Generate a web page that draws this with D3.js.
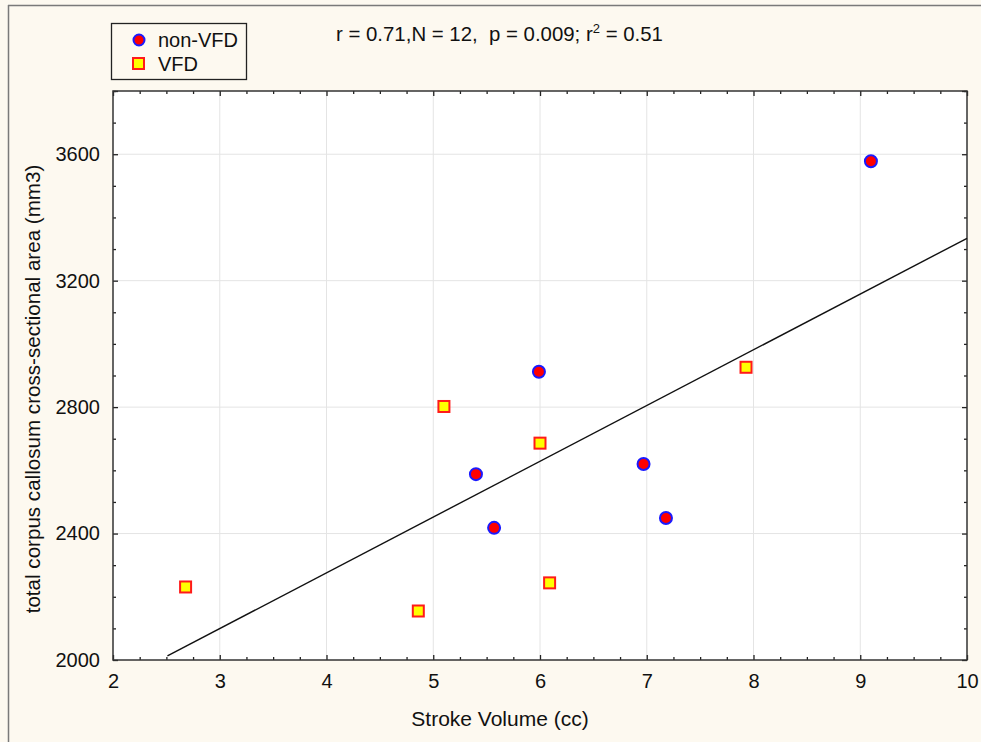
<!DOCTYPE html>
<html>
<head>
<meta charset="utf-8">
<script src="https://cdn.jsdelivr.net/npm/d3@7"></script>
<style>
    body { margin: 0; background: #fdf9f0; }
    svg { display: block; font-family: "Liberation Sans", Arial, sans-serif; }
</style>
</head>
<body>
<div id="chart"></div>
<script>
// non-VFD group (circles)
const nonVfdX = [9.10, 5.99, 5.40, 5.57, 6.97, 7.18];
const nonVfdY = [3578, 2912, 2588, 2418, 2620, 2449];

// VFD group (squares)
const vfdX = [2.68, 4.86, 5.10, 6.00, 6.09, 7.93];
const vfdY = [2231, 2155, 2802, 2686, 2244, 2926];

// fitted line endpoints as drawn
const fitX = [2.51, 10];
const fitY = [2013, 3334];

const xTicks = [2, 3, 4, 5, 6, 7, 8, 9, 10];
const yTicks = [2000, 2400, 2800, 3200, 3600];
const statsText = "r = 0.71,N = 12,  p = 0.009; r";

const W = 981, H = 742;
const margin = {top: 91, right: 14, bottom: 82, left: 113};
const width = W - margin.left - margin.right;
const height = H - margin.top - margin.bottom;
const fontSize = 20;

const svg = d3.select("#chart").append("svg")
    .attr("width", W)
    .attr("height", H);

// outer frame edges
svg.append("line").attr("x1", 8.5).attr("x2", 8.5).attr("y1", 5).attr("y2", H)
    .attr("stroke", "#7a7a7a").attr("stroke-width", 1.5);
svg.append("line").attr("x1", 8).attr("x2", W).attr("y1", 5.5).attr("y2", 5.5)
    .attr("stroke", "#7a7a7a").attr("stroke-width", 1.5);

const g = svg.append("g")
    .attr("transform", `translate(${margin.left},${margin.top})`);

const x = d3.scaleLinear().domain([2, 10]).range([0, width]);
const y = d3.scaleLinear().domain([2000, 3800]).range([height, 0]);

// plot background
g.append("rect")
    .attr("width", width).attr("height", height)
    .attr("fill", "#ffffff");

// grid lines
g.append("g").selectAll("line")
    .data(xTicks.slice(1, -1))
    .join("line")
    .attr("x1", d => x(d)).attr("x2", d => x(d))
    .attr("y1", 0).attr("y2", height)
    .attr("stroke", "#e4e4e4");
g.append("g").selectAll("line")
    .data(yTicks.slice(1))
    .join("line")
    .attr("x1", 0).attr("x2", width)
    .attr("y1", d => y(d)).attr("y2", d => y(d))
    .attr("stroke", "#e4e4e4");

// axes with inward ticks (minor + major)
const xMinor = d3.range(2, 10.001, 0.25).filter(d => d % 1 !== 0);
const yMinor = d3.range(2000, 3800.001, 100).filter(d => d % 400 !== 0);

function styleAxis(sel) {
    sel.select(".domain").remove();
    sel.selectAll("line").attr("stroke", "#222").attr("stroke-width", 1.3);
}

function frameTicks(len, xv, yv) {
    g.append("g")
        .attr("transform", `translate(0,${height})`)
        .call(d3.axisBottom(x).tickValues(xv).tickSize(-len).tickFormat(""))
        .call(styleAxis);
    g.append("g")
        .call(d3.axisTop(x).tickValues(xv).tickSize(-len).tickFormat(""))
        .call(styleAxis);
    g.append("g")
        .call(d3.axisLeft(y).tickValues(yv).tickSize(-len).tickFormat(""))
        .call(styleAxis);
    g.append("g")
        .attr("transform", `translate(${width},0)`)
        .call(d3.axisRight(y).tickValues(yv).tickSize(-len).tickFormat(""))
        .call(styleAxis);
}
frameTicks(3, xMinor, yMinor);
frameTicks(5, xTicks, yTicks.concat([3800]));

// tick labels
g.append("g")
    .attr("transform", `translate(0,${height})`)
    .call(d3.axisBottom(x).tickValues(xTicks).tickSize(0).tickPadding(14).tickFormat(d3.format("d")))
    .call(sel => sel.select(".domain").remove())
    .selectAll("text")
    .attr("font-size", fontSize).attr("fill", "#111")
    .attr("font-family", "Liberation Sans, Arial, sans-serif");
g.append("g")
    .call(d3.axisLeft(y).tickValues(yTicks).tickSize(0).tickPadding(13).tickFormat(d3.format("d")))
    .call(sel => sel.select(".domain").remove())
    .selectAll("text")
    .attr("font-size", fontSize).attr("fill", "#111")
    .attr("font-family", "Liberation Sans, Arial, sans-serif");

// plot border
g.append("rect")
    .attr("width", width).attr("height", height)
    .attr("fill", "none")
    .attr("stroke", "#333").attr("stroke-width", 1.5);

// fit line
const fitData = fitX.map((d, i) => ({x: d, y: fitY[i]}));
g.append("path")
    .datum(fitData)
    .attr("fill", "none")
    .attr("stroke", "#111")
    .attr("stroke-width", 1.4)
    .attr("d", d3.line().x(d => x(d.x)).y(d => y(d.y)));

// points
const sq = 11;
g.selectAll(".vfd")
    .data(vfdX.map((d, i) => ({x: d, y: vfdY[i]})))
    .join("rect")
    .attr("class", "vfd")
    .attr("x", d => x(d.x) - sq / 2)
    .attr("y", d => y(d.y) - sq / 2)
    .attr("width", sq).attr("height", sq)
    .attr("fill", "#ffff00")
    .attr("stroke", "#ff1a1a")
    .attr("stroke-width", 2);

g.selectAll(".nonvfd")
    .data(nonVfdX.map((d, i) => ({x: d, y: nonVfdY[i]})))
    .join("circle")
    .attr("class", "nonvfd")
    .attr("cx", d => x(d.x))
    .attr("cy", d => y(d.y))
    .attr("r", 6)
    .attr("fill", "#ff0000")
    .attr("stroke", "#1a1aff")
    .attr("stroke-width", 2);

// axis titles
svg.append("text")
    .attr("x", 500)
    .attr("y", 726)
    .attr("text-anchor", "middle")
    .attr("font-size", 21)
    .attr("fill", "#111")
    .text("Stroke Volume (cc)");

svg.append("text")
    .attr("transform", `translate(40,389) rotate(-90)`)
    .attr("text-anchor", "middle")
    .attr("font-size", 20.6)
    .attr("fill", "#111")
    .text("total corpus callosum cross-sectional area (mm3)");

// stats text
const st = svg.append("text")
    .attr("x", 336).attr("y", 41)
    .attr("font-size", 20.4)
    .attr("fill", "#111")
    .style("white-space", "pre");
st.append("tspan").text(statsText);
st.append("tspan").attr("font-size", 13).attr("dy", -8).text("2");
st.append("tspan").attr("dy", 8).text(" = 0.51");

// legend
const legend = svg.append("g");
legend.append("rect")
    .attr("x", 111.5).attr("y", 23.5)
    .attr("width", 135).attr("height", 56)
    .attr("fill", "none")
    .attr("stroke", "#222").attr("stroke-width", 1.3);
legend.append("circle")
    .attr("cx", 139).attr("cy", 40).attr("r", 5.5)
    .attr("fill", "#ff0000").attr("stroke", "#1a1aff").attr("stroke-width", 2);
legend.append("rect")
    .attr("x", 133).attr("y", 58).attr("width", 11).attr("height", 11)
    .attr("fill", "#ffff00").attr("stroke", "#ff1a1a").attr("stroke-width", 2);
legend.append("text")
    .attr("x", 158).attr("y", 47)
    .attr("font-size", fontSize).attr("fill", "#111")
    .text("non-VFD");
legend.append("text")
    .attr("x", 158).attr("y", 71)
    .attr("font-size", fontSize).attr("fill", "#111")
    .text("VFD");
</script>
</body>
</html>
